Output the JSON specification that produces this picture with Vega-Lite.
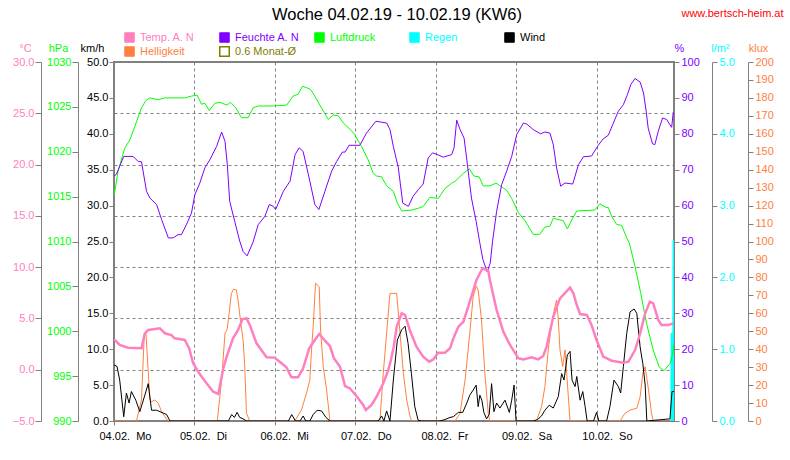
{
"$schema": "https://vega.github.io/schema/vega-lite/v6.json",
"width": 560, "height": 359,
"autosize": {"type": "none"},
"padding": {"left": 114, "top": 62, "right": 116, "bottom": 39},
"background": "white",
"title": {"text": "Woche 04.02.19 - 10.02.19 (KW6)", "fontSize": 16.5, "font": "Liberation Sans", "fontWeight": "normal", "color": "black", "anchor": "middle", "frame": "group", "dx": 3, "offset": 0, "dy": 16},
"config": {
  "view": {"stroke": "#808080", "strokeWidth": 2},
  "font": "Liberation Sans",
  "axis": {"labelFont": "Liberation Sans", "labelFontSize": 11, "titleFont": "Liberation Sans", "titleFontSize": 11, "titleFontWeight": "normal", "domainColor": "#808080", "tickColor": "#808080", "grid": false, "labelOverlap": false, "labelFlush": false, "titleAngle": 0, "titleAlign": "center", "titleBaseline": "alphabetic", "tickSize": 6, "labelPadding": 1},
  "legend": {"orient": "none", "symbolType": "square", "symbolSize": 90, "labelFont": "Liberation Sans", "labelFontSize": 11, "padding": 0, "labelOffset": 5}
},
"datasets": {
"temp": [{"h":0,"v":2.97},{"h":1.7,"v":2.41},{"h":4.2,"v":2.15},{"h":8.2,"v":2.09},{"h":9.2,"v":3.55},{"h":10.2,"v":3.87},{"h":13.7,"v":4.04},{"h":15.2,"v":3.55},{"h":17.1,"v":3.38},{"h":18.1,"v":3.06},{"h":21.1,"v":2.9},{"h":22.4,"v":2.09},{"h":23.6,"v":0.63},{"h":25.4,"v":-0.35},{"h":27.6,"v":-1.32},{"h":29.6,"v":-2.14},{"h":31.1,"v":-2.37},{"h":32.6,"v":0.14},{"h":33.6,"v":1.27},{"h":35.5,"v":3.06},{"h":37.0,"v":3.87},{"h":38.3,"v":4.91},{"h":39.5,"v":5.01},{"h":40.5,"v":4.36},{"h":42.5,"v":2.57},{"h":45.5,"v":1.21},{"h":47.9,"v":1.18},{"h":49.4,"v":0.78},{"h":51.4,"v":0.24},{"h":52.9,"v":-0.74},{"h":54.9,"v":-0.74},{"h":56.4,"v":0.14},{"h":58.2,"v":2.09},{"h":59.9,"v":2.9},{"h":61.2,"v":3.48},{"h":62.9,"v":2.83},{"h":64.4,"v":2.31},{"h":65.6,"v":1.11},{"h":67.4,"v":0.29},{"h":68.9,"v":-1.59},{"h":70.3,"v":-1.81},{"h":72.3,"v":-2.56},{"h":74.3,"v":-3.44},{"h":75.1,"v":-3.93},{"h":76.8,"v":-3.44},{"h":78.3,"v":-2.63},{"h":80.3,"v":-1.32},{"h":81.8,"v":-0.03},{"h":82.6,"v":1.0},{"h":83.4,"v":2.2},{"h":84.3,"v":4.19},{"h":85.8,"v":5.5},{"h":86.8,"v":5.34},{"h":88.2,"v":3.87},{"h":90.2,"v":2.25},{"h":92.2,"v":1.27},{"h":94.0,"v":0.78},{"h":95.2,"v":1.0},{"h":96.7,"v":1.66},{"h":98.7,"v":1.66},{"h":100.2,"v":2.09},{"h":101.2,"v":3.06},{"h":102.7,"v":4.19},{"h":104.2,"v":4.68},{"h":106.1,"v":6.63},{"h":108.1,"v":8.75},{"h":109.9,"v":9.89},{"h":111.6,"v":9.65},{"h":112.1,"v":8.75},{"h":114.1,"v":5.82},{"h":116.1,"v":3.71},{"h":118.1,"v":2.41},{"h":120.6,"v":1.11},{"h":122.1,"v":1.01},{"h":124.5,"v":1.21},{"h":126.5,"v":1.01},{"h":128.0,"v":1.34},{"h":129.0,"v":2.25},{"h":131.0,"v":5.17},{"h":133.0,"v":6.96},{"h":136.0,"v":8.0},{"h":137.0,"v":7.45},{"h":138.0,"v":6.31},{"h":139.0,"v":5.43},{"h":141.0,"v":5.34},{"h":142.4,"v":4.36},{"h":143.9,"v":2.9},{"h":145.9,"v":1.27},{"h":148.4,"v":0.88},{"h":151.9,"v":0.68},{"h":153.4,"v":0.78},{"h":155.4,"v":1.92},{"h":156.9,"v":3.55},{"h":158.4,"v":5.5},{"h":159.8,"v":6.63},{"h":160.8,"v":6.47},{"h":162.3,"v":4.85},{"h":163.3,"v":4.36},{"h":165.3,"v":4.36},{"h":166.8,"v":4.52}],
"pres": [{"h":0,"v":1015.0},{"h":1.2,"v":1017.8},{"h":3.2,"v":1020.4},{"h":4.7,"v":1021.3},{"h":6.2,"v":1022.8},{"h":8.2,"v":1024.9},{"h":9.5,"v":1025.7},{"h":10.7,"v":1026.0},{"h":13.2,"v":1025.8},{"h":15.2,"v":1026.0},{"h":21.1,"v":1026.0},{"h":23.1,"v":1026.2},{"h":24.8,"v":1026.3},{"h":26.1,"v":1025.3},{"h":27.1,"v":1025.4},{"h":28.4,"v":1024.6},{"h":30.1,"v":1025.4},{"h":31.6,"v":1025.5},{"h":33.6,"v":1025.2},{"h":34.8,"v":1025.5},{"h":36.3,"v":1024.9},{"h":38.0,"v":1023.8},{"h":40.0,"v":1023.8},{"h":41.5,"v":1024.9},{"h":43.0,"v":1025.1},{"h":47.5,"v":1025.1},{"h":51.5,"v":1025.2},{"h":53.4,"v":1026.2},{"h":54.9,"v":1026.4},{"h":56.2,"v":1027.3},{"h":58.4,"v":1027.0},{"h":59.4,"v":1026.5},{"h":61.4,"v":1025.2},{"h":63.9,"v":1023.6},{"h":65.4,"v":1024.1},{"h":66.9,"v":1024.0},{"h":68.4,"v":1023.2},{"h":70.4,"v":1022.5},{"h":71.8,"v":1021.9},{"h":73.8,"v":1020.6},{"h":75.8,"v":1019.1},{"h":77.3,"v":1017.6},{"h":78.3,"v":1017.3},{"h":79.8,"v":1017.2},{"h":81.3,"v":1016.2},{"h":83.3,"v":1015.6},{"h":84.5,"v":1014.3},{"h":85.8,"v":1013.4},{"h":88.7,"v":1013.5},{"h":90.7,"v":1013.7},{"h":92.2,"v":1013.9},{"h":94.2,"v":1014.9},{"h":96.7,"v":1014.8},{"h":98.7,"v":1015.9},{"h":100.7,"v":1016.5},{"h":101.7,"v":1016.7},{"h":104.2,"v":1017.6},{"h":106.0,"v":1018.1},{"h":107.3,"v":1017.3},{"h":108.9,"v":1017.2},{"h":110.1,"v":1016.2},{"h":112.1,"v":1016.2},{"h":113.9,"v":1016.5},{"h":115.6,"v":1016.1},{"h":117.1,"v":1015.7},{"h":118.6,"v":1014.8},{"h":120.6,"v":1013.2},{"h":122.6,"v":1012.3},{"h":125.0,"v":1010.8},{"h":127.0,"v":1010.8},{"h":128.5,"v":1011.6},{"h":130.0,"v":1011.7},{"h":131.0,"v":1012.6},{"h":134.0,"v":1012.3},{"h":135.2,"v":1011.4},{"h":136.5,"v":1012.4},{"h":138.0,"v":1013.4},{"h":143.4,"v":1013.5},{"h":144.9,"v":1014.2},{"h":146.7,"v":1013.8},{"h":147.4,"v":1013.8},{"h":148.4,"v":1012.8},{"h":149.9,"v":1011.9},{"h":151.4,"v":1011.8},{"h":152.9,"v":1010.4},{"h":153.7,"v":1009.8},{"h":155.4,"v":1007.2},{"h":157.1,"v":1004.2},{"h":158.8,"v":1000.9},{"h":160.8,"v":997.9},{"h":162.6,"v":996.0},{"h":164.0,"v":995.6},{"h":165.8,"v":996.4},{"h":166.6,"v":997.5},{"h":167,"v":998.5}],
"hum": [{"h":0,"v":68.2},{"h":0.7,"v":68.7},{"h":2.9,"v":73.7},{"h":5.7,"v":73.7},{"h":7.2,"v":72.3},{"h":8.2,"v":72.2},{"h":9.7,"v":64.0},{"h":10.7,"v":62.1},{"h":12.7,"v":60.3},{"h":14.2,"v":56.1},{"h":16.2,"v":51.0},{"h":17.6,"v":51.0},{"h":19.1,"v":51.9},{"h":20.1,"v":51.9},{"h":21.6,"v":54.7},{"h":23.1,"v":57.9},{"h":24.1,"v":63.0},{"h":25.6,"v":66.3},{"h":27.1,"v":70.5},{"h":28.6,"v":72.8},{"h":30.6,"v":76.5},{"h":32.1,"v":80.5},{"h":33.1,"v":77.9},{"h":33.8,"v":71.4},{"h":34.5,"v":61.2},{"h":36.0,"v":55.6},{"h":37.5,"v":50.1},{"h":38.5,"v":47.2},{"h":39.7,"v":46.0},{"h":41.5,"v":49.9},{"h":43.0,"v":54.7},{"h":45.0,"v":57.0},{"h":46.3,"v":60.3},{"h":47.5,"v":59.8},{"h":48.2,"v":58.9},{"h":50.5,"v":64.0},{"h":52.5,"v":66.8},{"h":54.0,"v":74.2},{"h":55.2,"v":76.1},{"h":56.4,"v":75.1},{"h":58.4,"v":66.8},{"h":59.9,"v":60.3},{"h":61.1,"v":58.9},{"h":62.9,"v":64.0},{"h":64.9,"v":69.6},{"h":66.4,"v":72.3},{"h":68.1,"v":74.9},{"h":68.9,"v":74.9},{"h":70.1,"v":76.8},{"h":73.3,"v":76.8},{"h":75.3,"v":80.2},{"h":78.1,"v":83.5},{"h":81.3,"v":83.0},{"h":82.3,"v":81.2},{"h":83.3,"v":76.5},{"h":84.8,"v":70.5},{"h":86.1,"v":60.7},{"h":87.8,"v":59.8},{"h":89.2,"v":62.6},{"h":90.7,"v":64.4},{"h":92.2,"v":66.0},{"h":93.7,"v":73.3},{"h":95.0,"v":74.7},{"h":96.7,"v":74.1},{"h":98.2,"v":73.5},{"h":100.7,"v":74.2},{"h":101.4,"v":76.1},{"h":102.2,"v":83.8},{"h":103.2,"v":81.2},{"h":104.4,"v":78.8},{"h":105.4,"v":71.4},{"h":106.6,"v":62.1},{"h":108.0,"v":55.6},{"h":109.0,"v":50.1},{"h":110.0,"v":45.0},{"h":111.3,"v":41.5},{"h":112.2,"v":44.0},{"h":112.9,"v":50.1},{"h":114.1,"v":58.4},{"h":115.6,"v":65.8},{"h":117.1,"v":69.6},{"h":118.6,"v":73.7},{"h":120.1,"v":79.8},{"h":122.1,"v":83.0},{"h":123.1,"v":82.7},{"h":125.0,"v":81.2},{"h":127.2,"v":80.0},{"h":128.5,"v":80.5},{"h":130.0,"v":80.2},{"h":131.0,"v":77.0},{"h":132.0,"v":70.5},{"h":133.2,"v":65.4},{"h":134.5,"v":66.3},{"h":136.8,"v":66.0},{"h":138.5,"v":71.4},{"h":140.0,"v":73.6},{"h":142.4,"v":73.8},{"h":144.4,"v":76.8},{"h":145.9,"v":78.6},{"h":147.4,"v":79.6},{"h":148.7,"v":82.5},{"h":150.4,"v":86.3},{"h":151.9,"v":88.1},{"h":153.1,"v":90.9},{"h":154.1,"v":93.7},{"h":155.4,"v":95.4},{"h":156.9,"v":94.4},{"h":157.9,"v":91.4},{"h":158.7,"v":86.3},{"h":159.3,"v":81.6},{"h":160.6,"v":77.2},{"h":161.3,"v":77.0},{"h":162.3,"v":80.7},{"h":163.6,"v":84.4},{"h":164.8,"v":84.0},{"h":166.3,"v":81.8},{"h":166.8,"v":86.1}],
"lux": [{"h":0,"v":0},{"h":6.7,"v":0},{"h":8.2,"v":11.7},{"h":9.0,"v":47},{"h":9.5,"v":49.8},{"h":10.0,"v":34},{"h":10.7,"v":11.7},{"h":11.2,"v":10.8},{"h":12.2,"v":11.7},{"h":13.2,"v":9.9},{"h":14.2,"v":5.2},{"h":15.7,"v":1.0},{"h":16.5,"v":0},{"h":30.8,"v":0},{"h":32.1,"v":22.8},{"h":33.1,"v":48.9},{"h":33.7,"v":50.7},{"h":34.4,"v":60.9},{"h":35.0,"v":71.1},{"h":35.7,"v":73.4},{"h":36.5,"v":73.0},{"h":37.0,"v":67.4},{"h":37.7,"v":56.3},{"h":38.5,"v":45.1},{"h":39.0,"v":30.3},{"h":39.5,"v":4.3},{"h":40.5,"v":0},{"h":53.9,"v":0},{"h":55.9,"v":6.1},{"h":57.4,"v":15.4},{"h":58.4,"v":22.8},{"h":58.9,"v":39.6},{"h":59.4,"v":52.5},{"h":60.1,"v":76.7},{"h":61.2,"v":74.8},{"h":61.6,"v":50.7},{"h":62.4,"v":30.3},{"h":63.4,"v":17.3},{"h":64.4,"v":0},{"h":79.3,"v":0},{"h":80.3,"v":26.6},{"h":81.3,"v":48.9},{"h":82.3,"v":71.1},{"h":84.3,"v":71.1},{"h":85.3,"v":49},{"h":86.3,"v":26.6},{"h":87.3,"v":11.7},{"h":88.3,"v":2.4},{"h":88.8,"v":0},{"h":101.7,"v":0},{"h":103.2,"v":4.3},{"h":104.7,"v":22.8},{"h":106.1,"v":48.9},{"h":107.1,"v":69.2},{"h":108.0,"v":75.2},{"h":108.6,"v":73.0},{"h":109.6,"v":56.3},{"h":110.6,"v":26.6},{"h":111.6,"v":4.3},{"h":112.1,"v":0},{"h":126.0,"v":0},{"h":127.5,"v":8.0},{"h":128.5,"v":19.1},{"h":129.5,"v":39.6},{"h":130.5,"v":54.4},{"h":131.5,"v":63.7},{"h":132.0,"v":67.4},{"h":132.5,"v":56.3},{"h":133.0,"v":39.6},{"h":133.8,"v":30.3},{"h":134.5,"v":39.6},{"h":135.0,"v":26.6},{"h":136.0,"v":0},{"h":150.9,"v":0},{"h":152.4,"v":4.3},{"h":153.9,"v":6.1},{"h":155.9,"v":7.1},{"h":156.9,"v":13.5},{"h":157.7,"v":26.6},{"h":158.4,"v":30.3},{"h":159.4,"v":17.3},{"h":160.3,"v":4.3},{"h":160.8,"v":0},{"h":167,"v":0}],
"wind": [{"h":0,"v":7.8},{"h":0.9,"v":7.6},{"h":1.7,"v":5.7},{"h":2.9,"v":0.6},{"h":3.7,"v":3.9},{"h":4.5,"v":2.5},{"h":5.2,"v":4.1},{"h":6.5,"v":2.9},{"h":7.7,"v":1.3},{"h":9.2,"v":3.6},{"h":10.2,"v":5.2},{"h":11.2,"v":1.5},{"h":12.7,"v":1.5},{"h":13.7,"v":1.3},{"h":14.7,"v":1.1},{"h":15.7,"v":0.9},{"h":16.7,"v":0},{"h":34.1,"v":0},{"h":35.1,"v":0.9},{"h":35.9,"v":0.5},{"h":36.7,"v":1.2},{"h":37.5,"v":0.5},{"h":38.5,"v":0.3},{"h":39.5,"v":0},{"h":52.0,"v":0},{"h":53.0,"v":0.9},{"h":54.1,"v":0},{"h":55.5,"v":0},{"h":56.4,"v":0.7},{"h":57.2,"v":0},{"h":58.4,"v":0},{"h":59.4,"v":0.9},{"h":60.6,"v":1.5},{"h":61.9,"v":1.4},{"h":63.2,"v":0.5},{"h":64.4,"v":0},{"h":78.8,"v":0},{"h":79.8,"v":0.7},{"h":80.5,"v":0},{"h":81.3,"v":1.4},{"h":82.3,"v":0},{"h":83.3,"v":5.7},{"h":84.5,"v":11.3},{"h":85.8,"v":12.7},{"h":86.8,"v":13.2},{"h":87.7,"v":10.8},{"h":88.7,"v":6.6},{"h":89.7,"v":2.0},{"h":90.7,"v":0.1},{"h":91.7,"v":0},{"h":97.2,"v":0},{"h":98.7,"v":0.2},{"h":100.2,"v":0.5},{"h":101.2,"v":0.6},{"h":102.7,"v":1.2},{"h":104.0,"v":1.2},{"h":105.2,"v":2.5},{"h":106.1,"v":3.6},{"h":107.1,"v":4.3},{"h":108.0,"v":5.0},{"h":108.6,"v":2.0},{"h":109.1,"v":3.6},{"h":109.7,"v":2.9},{"h":110.3,"v":1.2},{"h":111.1,"v":0.3},{"h":111.9,"v":0.9},{"h":112.6,"v":5.2},{"h":113.3,"v":1.3},{"h":114.1,"v":2.5},{"h":115.1,"v":1.8},{"h":116.6,"v":2.9},{"h":117.9,"v":1.2},{"h":118.6,"v":2.9},{"h":119.3,"v":5.0},{"h":119.9,"v":0},{"h":125.0,"v":0},{"h":126.3,"v":0.2},{"h":127.5,"v":0.7},{"h":128.5,"v":1.5},{"h":129.8,"v":2.2},{"h":131.0,"v":1.8},{"h":132.5,"v":3.4},{"h":133.5,"v":6.6},{"h":134.2,"v":5.7},{"h":135.2,"v":9.2},{"h":136.0,"v":9.7},{"h":136.6,"v":5.7},{"h":137.5,"v":4.8},{"h":138.0,"v":6.2},{"h":139.0,"v":2.9},{"h":139.8,"v":4.1},{"h":140.5,"v":2.0},{"h":141.1,"v":0},{"h":143.0,"v":0},{"h":143.9,"v":1.2},{"h":144.6,"v":0},{"h":146.9,"v":0},{"h":147.9,"v":2.0},{"h":149.1,"v":5.7},{"h":150.4,"v":4.8},{"h":151.1,"v":3.9},{"h":151.9,"v":7.6},{"h":152.9,"v":12.2},{"h":153.9,"v":15.2},{"h":155.1,"v":15.6},{"h":155.9,"v":15.0},{"h":156.9,"v":10.3},{"h":157.7,"v":8.0},{"h":158.4,"v":5.0},{"h":158.9,"v":0},{"h":165.8,"v":0.3},{"h":166.4,"v":4.1},{"h":167,"v":4.1}],
"rain": [{"h":166.1,"v":0},{"h":166.25,"v":1.23},{"h":166.4,"v":0},{"h":166.65,"v":0},{"h":166.8,"v":2.52},{"h":166.95,"v":0}]
},
"layer": [
{"mark": {"type": "rule", "color": "#ff0000", "strokeDash": [2,2], "strokeWidth": 1},
 "encoding": {"y": {"datum": 0, "type": "quantitative", "scale": {"domain": [-5,30], "nice": false, "zero": false},
   "axis": {"orient": "left", "offset": 0, "grid": true, "gridColor": "#808080", "gridDash": [3,3], "values": [0,5,10,15,20,25], "labels": false, "ticks": false, "domain": false, "title": null}}}},
{"mark": {"type": "rule", "strokeDash": [12,5], "strokeWidth": 1},
 "encoding": {"y": {"datum": 0.6, "type": "quantitative", "scale": {"domain": [-5,30], "nice": false, "zero": false}, "axis": null},
   "color": {"datum": "0.6 Monat-Ø", "scale": {"range": ["#808000"]}, "legend": {"title": null, "legendX": 105, "legendY": -16, "labelColor": "#808000", "encode": {"symbols": {"update": {"fill": {"value": "transparent"}, "stroke": {"value": "#808000"}, "strokeWidth": {"value": 1.5}, "opacity": {"value": 1}}}}}}}},
{"data": {"name": "lux"}, "mark": {"type": "line", "strokeWidth": 1, "clip": true},
 "encoding": {
  "x": {"field": "h", "type": "quantitative", "scale": {"domain": [0,167], "nice": false, "zero": false},
    "axis": {"values": [0,24,48,72,96,120,144], "labelExpr": "['04.02.\u00a0 Mo','05.02.\u00a0 Di','06.02.\u00a0 Mi','07.02.\u00a0 Do','08.02.\u00a0 Fr','09.02.\u00a0 Sa','10.02.\u00a0 So'][round(datum.value/24)]", "labelAlign": "left", "labelOffset": -15, "labelPadding": 5, "tickSize": 4, "grid": true, "gridColor": "#808080", "gridDash": [3,3], "domain": false, "labelColor": "black", "title": "www.bertsch-heim.at", "titleColor": "#ff0000", "titleX": 618, "titleY": -405}},
  "y": {"field": "v", "type": "quantitative", "scale": {"domain": [0,200], "nice": false, "zero": false},
    "axis": {"orient": "right", "offset": 74, "values": [0,10,20,30,40,50,60,70,80,90,100,110,120,130,140,150,160,170,180,190,200], "format": "d", "labelColor": "#ff8040", "tickSize": 5, "labelPadding": 2, "title": "klux", "titleColor": "#ff8040", "titleX": 10, "titleY": -11}},
  "color": {"datum": "Helligkeit", "scale": {"range": ["#ff8040"]}, "legend": {"title": null, "legendX": 10, "legendY": -16, "labelColor": "#ff8040", "encode": {"symbols": {"update": {"fill": {"value": "#ff8040"}, "stroke": {"value": "black"}, "strokeWidth": {"value": 1}, "opacity": {"value": 1}}}}}}}},
{"data": {"name": "rain"}, "mark": {"type": "line", "strokeWidth": 1.5, "clip": true},
 "encoding": {
  "x": {"field": "h", "type": "quantitative", "scale": {"domain": [0,167], "nice": false, "zero": false}},
  "y": {"field": "v", "type": "quantitative", "scale": {"domain": [0,5], "nice": false, "zero": false},
    "axis": {"orient": "right", "offset": 38, "values": [0,1,2,3,4,5], "format": ".1f", "labelColor": "#00ffff", "tickSize": 5, "labelPadding": 2, "title": "l/m²", "titleColor": "#00ffff", "titleX": 8, "titleY": -11}},
  "color": {"datum": "Regen", "scale": {"range": ["#00ffff"]}, "legend": {"title": null, "legendX": 295, "legendY": -30, "labelColor": "#00ffff", "encode": {"symbols": {"update": {"fill": {"value": "#00ffff"}, "stroke": {"value": "black"}, "strokeWidth": {"value": 1}, "opacity": {"value": 1}}}}}}}},
{"data": {"name": "wind"}, "mark": {"type": "line", "strokeWidth": 1, "clip": true},
 "encoding": {
  "x": {"field": "h", "type": "quantitative", "scale": {"domain": [0,167], "nice": false, "zero": false}},
  "y": {"field": "v", "type": "quantitative", "scale": {"domain": [0,50], "nice": false, "zero": false},
    "axis": {"orient": "left", "offset": 0, "values": [0,5,10,15,20,25,30,35,40,45,50], "format": ".1f", "labelColor": "black", "tickSize": 5, "labelPadding": 1, "title": "km/h", "titleColor": "black", "titleX": -22, "titleY": -11, "domain": false}},
  "color": {"datum": "Wind", "scale": {"range": ["#000000"]}, "legend": {"title": null, "legendX": 390, "legendY": -30, "labelColor": "black", "encode": {"symbols": {"update": {"fill": {"value": "#000000"}, "stroke": {"value": "black"}, "strokeWidth": {"value": 1}, "opacity": {"value": 1}}}}}}}},
{"data": {"name": "pres"}, "mark": {"type": "line", "strokeWidth": 1, "clip": true},
 "encoding": {
  "x": {"field": "h", "type": "quantitative", "scale": {"domain": [0,167], "nice": false, "zero": false}},
  "y": {"field": "v", "type": "quantitative", "scale": {"domain": [990,1030], "nice": false, "zero": false},
    "axis": {"orient": "left", "offset": 36, "values": [990,995,1000,1005,1010,1015,1020,1025,1030], "format": "d", "labelColor": "#00ff00", "tickSize": 6, "title": "hPa", "titleColor": "#00ff00", "titleX": -20, "titleY": -11}},
  "color": {"datum": "Luftdruck", "scale": {"range": ["#00ff00"]}, "legend": {"title": null, "legendX": 200, "legendY": -30, "labelColor": "#00ff00", "encode": {"symbols": {"update": {"fill": {"value": "#00ff00"}, "stroke": {"value": "black"}, "strokeWidth": {"value": 1}, "opacity": {"value": 1}}}}}}}},
{"data": {"name": "hum"}, "mark": {"type": "line", "strokeWidth": 1, "clip": true},
 "encoding": {
  "x": {"field": "h", "type": "quantitative", "scale": {"domain": [0,167], "nice": false, "zero": false}},
  "y": {"field": "v", "type": "quantitative", "scale": {"domain": [0,100], "nice": false, "zero": false},
    "axis": {"orient": "right", "offset": 0, "values": [0,10,20,30,40,50,60,70,80,90,100], "format": "d", "labelColor": "#8000ff", "tickSize": 5, "labelPadding": 2, "title": "%", "titleColor": "#8000ff", "titleX": 5, "titleY": -11, "domain": false}},
  "color": {"datum": "Feuchte A. N", "scale": {"range": ["#8000ff"]}, "legend": {"title": null, "legendX": 105, "legendY": -30, "labelColor": "#8000ff", "encode": {"symbols": {"update": {"fill": {"value": "#8000ff"}, "stroke": {"value": "black"}, "strokeWidth": {"value": 1}, "opacity": {"value": 1}}}}}}}},
{"data": {"name": "temp"}, "mark": {"type": "line", "strokeWidth": 2.5, "clip": true},
 "encoding": {
  "x": {"field": "h", "type": "quantitative", "scale": {"domain": [0,167], "nice": false, "zero": false}},
  "y": {"field": "v", "type": "quantitative", "scale": {"domain": [-5,30], "nice": false, "zero": false},
    "axis": {"orient": "left", "offset": 73, "values": [-5,0,5,10,15,20,25,30], "format": ".1f", "labelColor": "#ff80c0", "tickSize": 6, "title": "°C", "titleColor": "#ff80c0", "titleX": -16, "titleY": -11}},
  "color": {"datum": "Temp. A. N", "scale": {"range": ["#ff80c0"]}, "legend": {"title": null, "legendX": 10, "legendY": -30, "labelColor": "#ff80c0", "encode": {"symbols": {"update": {"fill": {"value": "#ff80c0"}, "stroke": {"value": "black"}, "strokeWidth": {"value": 1}, "opacity": {"value": 1}}}}}}}}
],
"resolve": {"scale": {"y": "independent", "color": "independent"}, "axis": {"y": "independent"}, "legend": {"color": "independent"}}
}
